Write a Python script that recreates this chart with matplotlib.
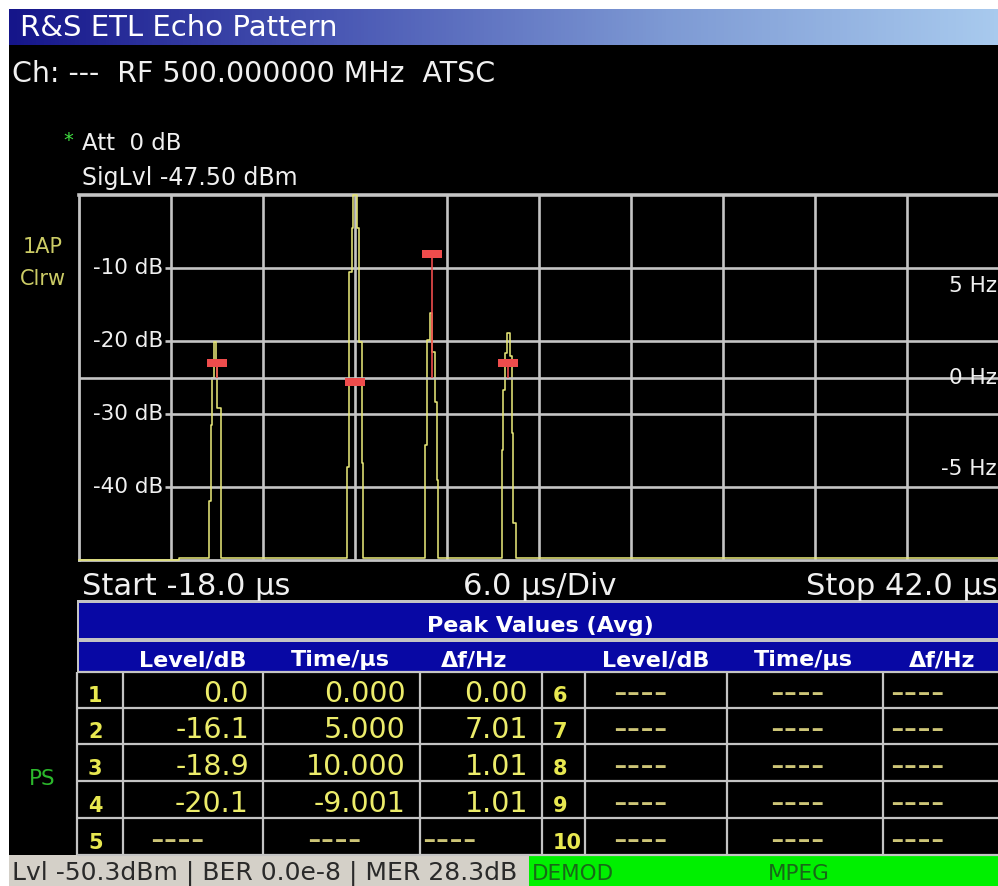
import numpy as np
import matplotlib
matplotlib.use("Agg")
import matplotlib.pyplot as plt
from matplotlib.patches import Rectangle
from matplotlib.colors import LinearSegmentedColormap
from matplotlib.transforms import blended_transform_factory

# ---------------- data ----------------
title = "R&S ETL Echo Pattern"
channel_line = "Ch: ---  RF 500.000000 MHz  ATSC"
att_text = "Att  0 dB"
siglvl_text = "SigLvl -47.50 dBm"
trace_label = ["1AP", "Clrw"]
ps_label = "PS"

x_start_us = -18.0
x_div_us = 6.0
x_stop_us = 42.0
y_top_db = 0.0
y_bottom_db = -50.0
db_grid = [-10, -20, -30, -40]
hz_min, hz_max = -10.0, 10.0
hz_labels = [5, 0, -5]

trace_time_us = [
    -18.0, -11.5, -11.5,
    -9.52, -9.52, -9.41, -9.41, -9.31, -9.31, -9.20, -9.20, -9.07, -9.07, -9.02, -9.02, -8.76, -8.76,
    -0.50, -0.50, -0.39, -0.39, -0.21, -0.21, -0.11, -0.11, 0.11, 0.11, 0.24, 0.24, 0.44, 0.44, 0.54, 0.54,
    4.57, 4.57, 4.70, 4.70, 4.89, 4.89, 5.05, 5.05, 5.22, 5.22, 5.33, 5.33, 5.43, 5.43,
    9.57, 9.57, 9.67, 9.67, 9.79, 9.79, 9.90, 9.90, 10.10, 10.10, 10.23, 10.23, 10.33, 10.33, 10.51, 10.51,
    42.0,
]
trace_level_db = [
    -50.0, -50.0, -49.7,
    -49.7, -41.9, -41.9, -31.5, -31.5, -25.1, -25.1, -20.1, -20.1, -23.4, -23.4, -29.2, -29.2, -49.7,
    -49.7, -37.2, -37.2, -10.5, -10.5, -4.5, -4.5, 0.0, 0.0, -4.5, -4.5, -20.1, -20.1, -36.7, -36.7, -49.7,
    -49.7, -34.2, -34.2, -19.9, -19.9, -16.1, -16.1, -21.5, -21.5, -28.3, -28.3, -39.0, -39.0, -49.7,
    -49.7, -34.9, -34.9, -26.7, -26.7, -21.6, -21.6, -18.9, -18.9, -22.0, -22.0, -32.6, -32.6, -44.9, -44.9, -49.7,
    -49.7,
]

table_title = "Peak Values (Avg)"
col_headers = ["Level/dB", "Time/µs", "Δf/Hz"]
peak_index = [1, 2, 3, 4, 5, 6, 7, 8, 9, 10]
peak_level_db = [0.0, -16.1, -18.9, -20.1]
peak_time_us = [0.000, 5.000, 10.000, -9.001]
peak_df_hz = [0.00, 7.01, 1.01, 1.01]
empty_cell = "----"

status_text = "Lvl -50.3dBm | BER 0.0e-8 | MER 28.3dB"
status_items = ["DEMOD", "MPEG"]

# ---------------- style ----------------
W, H = 998, 886
TXT = "#f0f0f0"
GRID = "#c4c4c4"
YEL = "#ecec6a"
TRACE = "#e4e476"
RED = "#ee4c4c"
BLUE = "#0808a4"
DASH = "#cdc577"

fig = plt.figure(figsize=(W / 100, H / 100), dpi=100)
fig.patch.set_facecolor("white")

bg = fig.add_axes([0, 0, 1, 1])
bg.set_xlim(0, W)
bg.set_ylim(H, 0)
bg.axis("off")

# black screen
bg.add_patch(Rectangle((9, 45), W - 9, 855 - 45, color="black", lw=0))
# title bar gradient
cmap = LinearSegmentedColormap.from_list("tb", ["#15158a", "#4a58b4", "#7e9ad4", "#a8caee"])
bg.imshow(np.linspace(0, 1, 256)[None, :], cmap=cmap, extent=(9, W, 45, 9), aspect="auto")
bg.set_xlim(0, W)
bg.set_ylim(H, 0)
bg.text(20, 36, title, color="white", fontsize=21, va="baseline")

bg.text(12, 82, channel_line, color=TXT, fontsize=20.5, va="baseline")
bg.text(68, 146, "*", color="#40e040", fontsize=14, ha="center", va="baseline")
bg.text(82, 150, att_text, color=TXT, fontsize=16.5, va="baseline")
bg.text(82, 185, siglvl_text, color=TXT, fontsize=17, va="baseline")
bg.text(43, 253, trace_label[0], color="#cccc66", fontsize=15, ha="center", va="baseline")
bg.text(43, 285, trace_label[1], color="#cccc66", fontsize=15, ha="center", va="baseline")
bg.text(42, 785, ps_label, color="#2cb82c", fontsize=15.5, ha="center", va="baseline")

# ---------------- plot ----------------
ax = fig.add_axes([79 / W, (H - 560) / H, 920 / W, 365 / H])
ax.set_facecolor("black")
ax.set_xlim(x_start_us, x_stop_us)
ax.set_ylim(y_bottom_db, y_top_db)
ax.set_xticks([])
ax.set_yticks([])
for s in ["left", "bottom"]:
    ax.spines[s].set_color(GRID)
    ax.spines[s].set_linewidth(2.0)
ax.spines["top"].set_color(GRID)
ax.spines["top"].set_linewidth(2.6)
ax.spines["right"].set_visible(False)

xt = np.arange(x_start_us + x_div_us, x_stop_us - 0.01, x_div_us)
ax.vlines(xt, y_bottom_db, y_top_db, colors=GRID, lw=1.9, zorder=1)
ax.hlines(db_grid, x_start_us + 5.6, x_stop_us, colors=GRID, lw=1.9, zorder=1)
ax.plot(trace_time_us, trace_level_db, color=TRACE, lw=1.15, zorder=3, clip_on=False)

tr = blended_transform_factory(ax.transAxes, ax.transData)
for v in db_grid:
    ax.text((163 - 79) / 920, v, f"{v} dB", transform=tr, ha="right", va="center",
            color=TXT, fontsize=15.5)

ax2 = ax.twinx()
ax2.set_ylim(hz_min, hz_max)
ax2.set_yticks([])
for s in ax2.spines.values():
    s.set_visible(False)
ax2.axhline(0, color=GRID, lw=1.9, zorder=1)
tr2 = blended_transform_factory(ax2.transAxes, ax2.transData)
for hz in hz_labels:
    ax2.text((997 - 79) / 920, hz, f"{hz} Hz", transform=tr2, ha="right", va="center",
             color=TXT, fontsize=15.5)
for t, df in zip(peak_time_us, peak_df_hz):
    if df != 0:
        ax2.vlines(t, 0, df, color=RED, lw=1.2, zorder=4)
    ax2.add_patch(Rectangle((t - 0.65, df - 0.45), 1.3, 0.45, color=RED, lw=0, zorder=5))

# below-plot labels
bg.text(82, 595, f"Start {x_start_us:.1f} µs", color=TXT, fontsize=22, va="baseline")
bg.text(540, 595, f"{x_div_us:.1f} µs/Div", color=TXT, fontsize=22, ha="center", va="baseline")
bg.text(998, 595, f"Stop {x_stop_us:.1f} µs", color=TXT, fontsize=22, ha="right", va="baseline")

# ---------------- table ----------------
col_edges = [77, 123, 263, 420, 542, 585, 727, 883, 998]
row_edges = [672, 708, 744, 781, 818, 855]
bg.add_patch(Rectangle((77, 600), W - 77, 72, color=GRID, lw=0))
bg.add_patch(Rectangle((79, 603), W - 79, 35, color=BLUE, lw=0))
bg.add_patch(Rectangle((79, 642), W - 79, 30, color=BLUE, lw=0))
bg.text(540, 632, table_title, color="white", fontsize=16, fontweight="bold",
        ha="center", va="baseline")
hdr_centers = [193, 340, 474, 656, 803, 942]
for i, cx in enumerate(hdr_centers):
    bg.text(cx, 666, col_headers[i % 3], color="white", fontsize=16, fontweight="bold",
            ha="center", va="baseline")

for y in row_edges:
    bg.plot([77, W], [y, y], color=GRID, lw=1.6, solid_capstyle="butt")
for x in col_edges[:-1]:
    bg.plot([x, x], [672, 855], color=GRID, lw=1.6, solid_capstyle="butt")

dash_off = [27, 44, 2, 28, 43, 7]
for r in range(5):
    base = row_edges[r + 1] - 6
    for half in range(2):
        idx = peak_index[r + 5 * half]
        c0 = 0 if half == 0 else 4
        bg.text(col_edges[c0] + 11, base, str(idx), color="#e8e850", fontsize=15,
                fontweight="bold", va="baseline")
        k = r + 5 * half
        if k < len(peak_level_db):
            vals = [f"{peak_level_db[k]:.1f}", f"{peak_time_us[k]:.3f}", f"{peak_df_hz[k]:.2f}"]
            for j, v in enumerate(vals):
                bg.text(col_edges[c0 + j + 2] - 14, base, v, color=YEL, fontsize=20.5,
                        ha="right", va="baseline")
        else:
            for j in range(3):
                bg.text(col_edges[c0 + j + 1] + dash_off[3 * half + j], base + 2, empty_cell,
                        color=DASH, fontsize=27, va="baseline")

# ---------------- status bar ----------------
bg.add_patch(Rectangle((9, 855), 529 - 9, H - 855, color="#d4d0c8", lw=0))
bg.add_patch(Rectangle((529, 855), W - 529, H - 855, color="#00f000", lw=0))
bg.text(12, 880, status_text, color="#2a2a2a", fontsize=18, va="baseline")
bg.text(532, 880, status_items[0], color="#186818", fontsize=15.5, va="baseline")
bg.text(768, 880, status_items[1], color="#186818", fontsize=15.5, va="baseline")

fig.savefig("out.png", dpi=100, facecolor=fig.get_facecolor())
